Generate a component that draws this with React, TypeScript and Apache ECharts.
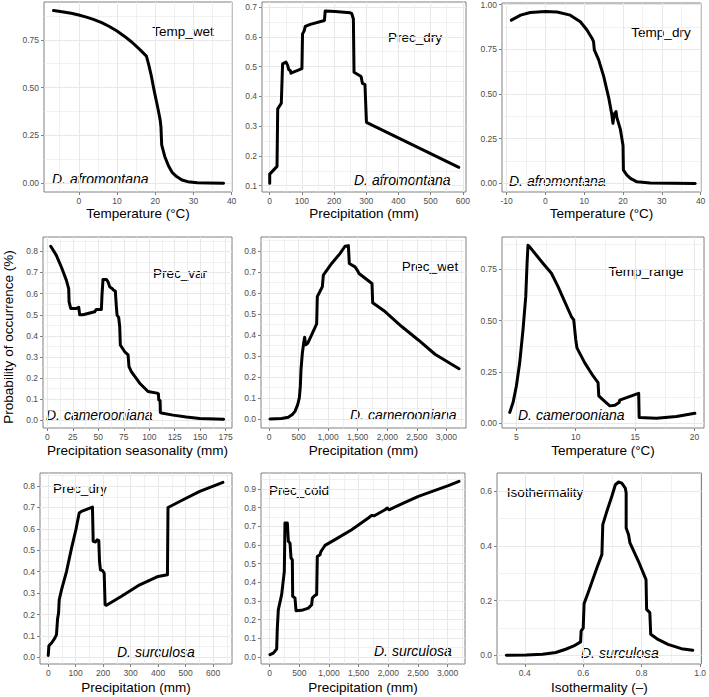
import React, { useEffect, useRef } from "react";
import * as echarts from "echarts";

// ---------- data (x, probability) ----------
const tempWetAfro: number[][] = [
  [-6.6, 0.903], [-4, 0.896], [-2, 0.889], [0, 0.88], [2, 0.869], [4, 0.856], [6, 0.84], [8, 0.82],
  [10, 0.796], [12, 0.768], [14, 0.736], [16, 0.699], [17.7, 0.665], [18.3, 0.62], [19, 0.56],
  [19.7, 0.487], [20.3, 0.43], [20.8, 0.383], [21.3, 0.33], [21.5, 0.296], [21.7, 0.2], [22.5, 0.14],
  [23.5, 0.09], [24.5, 0.055], [25.6, 0.035], [27, 0.017], [28.5, 0.008], [31, 0.002], [34, 0.001], [37.9, 0],
];

const precDryAfro: number[][] = [
  [0, 0.108], [0, 0.139], [22.7, 0.165], [24.8, 0.358], [36, 0.377], [40, 0.509], [50.6, 0.515],
  [55.8, 0.504], [59, 0.49], [64, 0.487], [66, 0.478], [100, 0.493], [102, 0.61], [107, 0.62],
  [110.5, 0.635], [126, 0.642], [170, 0.655], [172.5, 0.687], [203.5, 0.685], [250, 0.681],
  [255, 0.678], [260, 0.66], [262, 0.481], [284, 0.467], [288, 0.444], [296, 0.44], [300.6, 0.313],
  [587.8, 0.162],
];

const tempDryAfro: number[][] = [
  [-8.8, 0.913], [-6.4, 0.941], [-3.9, 0.956], [0, 0.961], [3, 0.959], [6.4, 0.941], [9, 0.904],
  [10.7, 0.858], [12, 0.812], [12.4, 0.793], [12.6, 0.747], [13.7, 0.692], [15, 0.6], [16.3, 0.48],
  [17.1, 0.387], [17.4, 0.336], [17.7, 0.387], [18.2, 0.402], [18.4, 0.369], [19.3, 0.304],
  [20, 0.212], [20.1, 0.074], [21, 0.046], [21.9, 0.028], [23.6, 0.009], [27, 0.002], [38.6, 0],
];

const precVarCam: number[][] = [
  [3.3, 0.824], [8.8, 0.781], [13.7, 0.726], [18.6, 0.664], [20.9, 0.624], [21.3, 0.561], [22.9, 0.53],
  [28.5, 0.53], [30.8, 0.535], [31.7, 0.5], [35, 0.5], [46.4, 0.514], [48, 0.525], [53, 0.525],
  [53.6, 0.593], [54.6, 0.667], [57.9, 0.667], [59.5, 0.656], [61.2, 0.632], [63.5, 0.624],
  [65.1, 0.616], [66.7, 0.612], [67.7, 0.538], [68.4, 0.498], [70, 0.487], [71, 0.443], [71.6, 0.357],
  [75.9, 0.325], [79.2, 0.31], [80.1, 0.255], [82.4, 0.231], [90.6, 0.176], [98.8, 0.137],
  [107.6, 0.129], [109, 0.126], [109.3, 0.097], [110.6, 0.094], [110.9, 0.038], [111.9, 0.035],
  [123.3, 0.025], [136.4, 0.016], [149.5, 0.009], [173, 0.006],
];

const precWetCam: number[][] = [
  [17, 0], [214, 0.002], [327, 0.008], [395, 0.021], [440, 0.036], [485, 0.068], [513, 0.1],
  [530, 0.155], [541, 0.234], [564, 0.313], [586, 0.36], [603, 0.389], [620, 0.353], [654, 0.36],
  [721, 0.4], [806, 0.452], [817, 0.582], [902, 0.629], [919, 0.685], [1060, 0.74], [1200, 0.787],
  [1285, 0.822], [1342, 0.825], [1358, 0.74], [1454, 0.724], [1500, 0.705], [1522, 0.692],
  [1725, 0.648], [1742, 0.645], [1753, 0.553], [1962, 0.511], [2244, 0.44], [2525, 0.376],
  [2807, 0.308], [3213, 0.239],
];

const tempRangeCam: number[][] = [
  [4.44, 0.052], [4.72, 0.1], [5.0, 0.181], [5.28, 0.294], [5.56, 0.456], [5.79, 0.617], [5.9, 0.779],
  [5.98, 0.868], [6.12, 0.86], [6.69, 0.819], [7.25, 0.779], [7.95, 0.731], [8.51, 0.666],
  [9.07, 0.593], [9.63, 0.52], [9.83, 0.504], [10.0, 0.407], [10.1, 0.367], [10.76, 0.294],
  [11.46, 0.23], [11.88, 0.197], [11.94, 0.133], [12.3, 0.113], [12.87, 0.084], [13.3, 0.087],
  [13.65, 0.1], [13.7, 0.112], [15.1, 0.141], [15.3, 0.145], [15.34, 0.027], [16.8, 0.023],
  [18.48, 0.032], [20.03, 0.048],
];

const precDrySurc: number[][] = [
  [0, 0.009], [2.4, 0.054], [12, 0.067], [24, 0.09], [30, 0.106], [34, 0.18], [37.6, 0.207],
  [40, 0.269], [48.5, 0.316], [66.7, 0.402], [84.8, 0.51], [100.6, 0.596], [112.7, 0.674],
  [121, 0.682], [161, 0.702], [163.6, 0.542], [172, 0.539], [178, 0.549], [184, 0.545],
  [186.7, 0.448], [190, 0.409], [197.6, 0.405], [203.6, 0.394], [207, 0.246], [212, 0.243],
  [266.7, 0.285], [333, 0.339], [400, 0.378], [434, 0.386], [436, 0.7], [491, 0.736], [551.5, 0.775],
  [636, 0.817],
];

const precColdSurc: number[][] = [
  [5.6, 0.0125], [62, 0.021], [118, 0.043], [129, 0.155], [146, 0.254], [202, 0.334], [247, 0.459],
  [258, 0.718], [298, 0.718], [315, 0.62], [343, 0.61], [360, 0.53], [382, 0.521], [388, 0.325],
  [427, 0.316], [444, 0.248], [539, 0.25], [652, 0.262], [708, 0.28], [719, 0.316], [764, 0.33],
  [792, 0.334], [803, 0.539], [848, 0.548], [865, 0.566], [904, 0.584], [933, 0.598], [1101, 0.629],
  [1382, 0.682], [1663, 0.745], [1719, 0.759], [1764, 0.757], [1944, 0.789], [1983, 0.798],
  [2011, 0.789], [2225, 0.82], [2506, 0.861], [2787, 0.893], [3011, 0.918], [3191, 0.941],
];

const isoSurc: number[][] = [
  [0.337, 0.0], [0.405, 0.001], [0.461, 0.004], [0.506, 0.01], [0.54, 0.022], [0.568, 0.034],
  [0.591, 0.049], [0.593, 0.089], [0.6, 0.099], [0.603, 0.189], [0.619, 0.235], [0.647, 0.32],
  [0.664, 0.369], [0.667, 0.478], [0.681, 0.527], [0.698, 0.582], [0.71, 0.624], [0.721, 0.634],
  [0.732, 0.63], [0.744, 0.612], [0.747, 0.594], [0.747, 0.466], [0.755, 0.442], [0.76, 0.411],
  [0.789, 0.344], [0.815, 0.277], [0.817, 0.168], [0.828, 0.156], [0.831, 0.077], [0.856, 0.058],
  [0.89, 0.04], [0.936, 0.024], [0.975, 0.018],
];

// ---------- tick labels ----------
const ticksTemp = [0, 10, 20, 30, 40];
const ticksTempDry = [-10, 0, 10, 20, 30, 40];
const ticksPrec600 = [0, 100, 200, 300, 400, 500, 600];
const ticksPrec3000 = [0, 500, 1000, 1500, 2000, 2500, 3000];
const ticksSeason = [0, 25, 50, 75, 100, 125, 150, 175];
const ticksRange = [5, 10, 15, 20];
const ticksIso = [0.4, 0.6, 0.8, 1.0];
const ticksQuarter = [0, 0.25, 0.5, 0.75];
const ticksQuarterTo1 = [0, 0.25, 0.5, 0.75, 1.0];
const ticksTenth07 = [0.1, 0.2, 0.3, 0.4, 0.5, 0.6, 0.7];
const ticksTenth08 = [0, 0.1, 0.2, 0.3, 0.4, 0.5, 0.6, 0.7, 0.8];
const ticksTenth09 = [0, 0.1, 0.2, 0.3, 0.4, 0.5, 0.6, 0.7, 0.8, 0.9];
const ticksFifth = [0, 0.2, 0.4, 0.6];

const variableNames = ["Temp_wet", "Prec_dry", "Temp_dry", "Prec_var", "Prec_wet", "Temp_range", "Prec_dry", "Prec_cold", "Isothermality"];
const speciesNames = ["D. afromontana", "D. afromontana", "D. afromontana", "D. camerooniana", "D. camerooniana", "D. camerooniana", "D. surculosa", "D. surculosa", "D. surculosa"];
const xTitles = ["Temperature (°C)", "Precipitation (mm)", "Temperature (°C)", "Precipitation seasonality (mm)", "Precipitation (mm)", "Temperature (°C)", "Precipitation (mm)", "Precipitation (mm)", "Isothermality (–)"];
const yTitle = "Probability of occurrence (%)";

// ---------- layout ----------
const FONT = "'Liberation Sans', Arial, sans-serif";
const BORDER = "#808080";
const GRIDC = "#e8e8e8";

type Panel = {
  data: number[][];
  box: [number, number, number, number];
  xr: [number, number];
  yr: [number, number];
  xt: number[];
  yt: number[];
  xd: number;
  yd: number;
  comma?: boolean;
  gap: number;
  lab: [number, number];
  sp: [number, number];
};

const panels: Panel[] = [
  { data: tempWetAfro, box: [44, 2, 232, 192], xr: [-9.1, 40.1], yr: [-0.046, 0.948], xt: ticksTemp, yt: ticksQuarter, xd: 0, yd: 2, gap: 14, lab: [183, 31], sp: [52, 179] },
  { data: precDryAfro, box: [262, 2, 466, 192], xr: [-24, 610], yr: [0.079, 0.717], xt: ticksPrec600, yt: ticksTenth07, xd: 0, yd: 1, gap: 14, lab: [415, 37], sp: [354, 180] },
  { data: tempDryAfro, box: [502, 3, 701, 192], xr: [-11.2, 40.1], yr: [-0.048, 1.009], xt: ticksTempDry, yt: ticksQuarterTo1, xd: 0, yd: 2, gap: 14, lab: [661, 32], sp: [509, 181] },
  { data: precVarCam, box: [43, 237, 232, 428], xr: [-4.3, 181.2], yr: [-0.036, 0.868], xt: ticksSeason, yt: ticksTenth08, xd: 0, yd: 1, gap: 15, lab: [180, 273], sp: [46, 415] },
  { data: precWetCam, box: [261, 237, 466, 428], xr: [-135, 3331], yr: [-0.043, 0.866], xt: ticksPrec3000, yt: ticksTenth08, xd: 0, yd: 1, comma: true, gap: 15, lab: [430, 266], sp: [350, 415] },
  { data: tempRangeCam, box: [502, 237, 704, 428], xr: [3.79, 20.8], yr: [-0.024, 0.908], xt: ticksRange, yt: ticksQuarter, xd: 0, yd: 2, gap: 15, lab: [646, 271], sp: [518, 415] },
  { data: precDrySurc, box: [40, 473, 232, 664], xr: [-30, 669], yr: [-0.031, 0.861], xt: ticksPrec600, yt: ticksTenth08, xd: 0, yd: 1, gap: 16, lab: [80, 488], sp: [117, 652] },
  { data: precColdSurc, box: [261, 473, 465, 664], xr: [-146, 3292], yr: [-0.0375, 0.986], xt: ticksPrec3000, yt: ticksTenth09, xd: 0, yd: 1, comma: true, gap: 16, lab: [299, 490], sp: [374, 651] },
  { data: isoSurc, box: [497, 473, 702, 664], xr: [0.305, 1.005], yr: [-0.032, 0.667], xt: ticksIso, yt: ticksFifth, xd: 1, yd: 1, gap: 16, lab: [545, 492], sp: [581, 653] },
];

function minorOf(ticks: number[], r: [number, number]): number[] {
  const step = ticks[1] - ticks[0];
  const out: number[] = [];
  for (let k = -1; k < ticks.length; k++) {
    const v = +(ticks[0] + step * (k + 0.5)).toFixed(6);
    if (v > r[0] && v < r[1]) out.push(v);
  }
  return out;
}

function fmt(d: number, comma?: boolean) {
  return (v: number) => {
    if (comma) return Math.round(v).toLocaleString("en-US");
    return v.toFixed(d);
  };
}

function buildOption() {
  const grid: any[] = [];
  const xAxis: any[] = [];
  const yAxis: any[] = [];
  const series: any[] = [];
  const graphic: any[] = [];

  panels.forEach((p, i) => {
    const [l, t, r, b] = p.box;
    grid.push({
      left: l, top: t, width: r - l, height: b - t,
      show: true, borderColor: BORDER, borderWidth: 1, backgroundColor: "transparent",
    });
    const xi = xAxis.length;
    xAxis.push({
      type: "value", gridIndex: i, min: p.xr[0], max: p.xr[1], position: "bottom",
      axisLine: { show: false, onZero: false },
      axisTick: { show: true, length: 3, customValues: p.xt, lineStyle: { color: BORDER, width: 1 } },
      axisLabel: { customValues: p.xt, formatter: fmt(p.xd, p.comma), fontSize: 8.5, color: "#4d4d4d", margin: 4, fontFamily: FONT },
      splitLine: { show: true, lineStyle: { color: GRIDC, width: 1 } },
      name: xTitles[i], nameLocation: "middle", nameGap: p.gap,
      nameTextStyle: { fontSize: 13.5, color: "#000", fontFamily: FONT },
    });
    xAxis.push({
      type: "value", gridIndex: i, min: p.xr[0], max: p.xr[1], position: "top",
      axisLine: { show: false, onZero: false },
      axisTick: { show: false, customValues: minorOf(p.xt, p.xr) },
      axisLabel: { show: false },
      splitLine: { show: true, lineStyle: { color: GRIDC, width: 0.6 } },
    });
    const yi = yAxis.length;
    yAxis.push({
      type: "value", gridIndex: i, min: p.yr[0], max: p.yr[1], position: "left",
      axisLine: { show: false, onZero: false },
      axisTick: { show: true, length: 3, customValues: p.yt, lineStyle: { color: BORDER, width: 1 } },
      axisLabel: { customValues: p.yt, formatter: fmt(p.yd), fontSize: 8.5, color: "#4d4d4d", margin: 5, fontFamily: FONT },
      splitLine: { show: true, lineStyle: { color: GRIDC, width: 1 } },
    });
    yAxis.push({
      type: "value", gridIndex: i, min: p.yr[0], max: p.yr[1], position: "right",
      axisLine: { show: false, onZero: false },
      axisTick: { show: false, customValues: minorOf(p.yt, p.yr) },
      axisLabel: { show: false },
      splitLine: { show: true, lineStyle: { color: GRIDC, width: 0.6 } },
    });
    series.push({
      type: "line", xAxisIndex: xi, yAxisIndex: yi, data: p.data,
      showSymbol: false, symbol: "none", silent: true,
      lineStyle: { color: "#000", width: 3, join: "round", cap: "round" },
    });
    graphic.push({
      type: "text", x: p.lab[0], y: p.lab[1], silent: true,
      style: { text: variableNames[i], fill: "#000", fontSize: 13.5, fontFamily: FONT, align: "center", textAlign: "center", verticalAlign: "middle", textVerticalAlign: "middle" },
    });
    graphic.push({
      type: "text", x: p.sp[0], y: p.sp[1], silent: true,
      style: { text: speciesNames[i], fill: "#000", fontSize: 14, fontStyle: "italic", fontFamily: FONT, align: "left", textAlign: "left", verticalAlign: "middle", textVerticalAlign: "middle" },
    });
  });

  graphic.push({
    type: "text", x: 8, y: 337, rotation: Math.PI / 2, silent: true,
    style: { text: yTitle, fill: "#000", fontSize: 13.5, fontFamily: FONT, align: "center", textAlign: "center", verticalAlign: "middle", textVerticalAlign: "middle" },
  });

  return {
    animation: false,
    backgroundColor: "#fff",
    textStyle: { fontFamily: FONT },
    grid, xAxis, yAxis, series, graphic,
  };
}

export default function App() {
  const ref = useRef<HTMLDivElement>(null);
  useEffect(() => {
    if (!ref.current) return;
    const chart = echarts.init(ref.current, undefined, { renderer: "svg" });
    chart.setOption(buildOption() as any);
    return () => chart.dispose();
  }, []);
  return (
    <div
      ref={ref}
      style={{ position: "fixed", left: 0, top: 0, width: 709, height: 697, background: "#fff" }}
    />
  );
}
